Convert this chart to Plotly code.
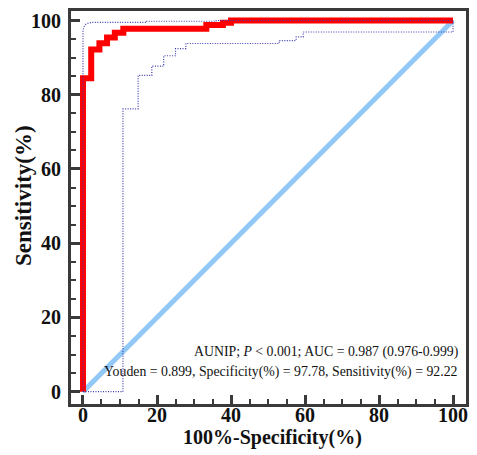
import plotly.graph_objects as go

# ROC curve (100%-Specificity, Sensitivity)
roc_x = [0, 0, 2.22, 2.22, 4.44, 4.44, 6.5, 6.5, 8.6, 8.6, 10.9, 10.9, 33.33, 33.33, 37.8, 37.8, 40.0, 40.0, 100]
roc_y = [0, 84.44, 84.44, 92.22, 92.22, 93.9, 93.9, 95.4, 95.4, 96.7, 96.7, 97.78, 97.78, 98.8, 98.8, 99.4, 99.4, 100, 100]

# Upper confidence bound
upper_x = [0, 0, 0.3, 0.8, 1.5, 2.5, 17.2, 17.2, 36.0, 36.0, 100]
upper_y = [0, 97.3, 98.4, 99.0, 99.3, 99.5, 99.5, 99.8, 99.8, 100, 100]

# Lower confidence bound
lower_x = [0, 10.8, 10.8, 14.9, 14.9, 18.6, 18.6, 21.8, 21.8, 25.0, 25.0, 27.8, 27.8,
           53.0, 53.0, 57.6, 57.6, 59.5, 59.5, 100, 100]
lower_y = [0, 0, 76.2, 76.2, 85.2, 85.2, 87.7, 87.7, 90.5, 90.5, 92.4, 92.4, 93.8,
           93.8, 94.6, 94.6, 95.6, 95.6, 96.9, 96.9, 100]

# Reference diagonal
diag_x = [0, 100]
diag_y = [0, 100]

tick_vals = [0, 20, 40, 60, 80, 100]
tick_text = ["0", "20", "40", "60", "80", "100"]

x_title = "100%-Specificity(%)"
y_title = "Sensitivity(%)"
line1 = "AUNIP; <i>P</i> < 0.001; AUC = 0.987 (0.976-0.999)"
line2 = "Youden = 0.899, Specificity(%) = 97.78, Sensitivity(%) = 92.22"

SERIF = "Liberation Serif, Times New Roman, serif"
AX = "#3a3a3a"

fig = go.Figure()
fig.add_trace(go.Scatter(x=diag_x, y=diag_y, mode="lines",
                         line=dict(color="#92c8f6", width=5), hoverinfo="skip"))
fig.add_trace(go.Scatter(x=roc_x, y=roc_y, mode="lines",
                         line=dict(color="#ff0000", width=6), hoverinfo="skip"))
fig.add_trace(go.Scatter(x=upper_x, y=upper_y, mode="lines",
                         line=dict(color="#3b3bb0", width=1.2, dash="1px,1.5px"), hoverinfo="skip"))
fig.add_trace(go.Scatter(x=lower_x, y=lower_y, mode="lines",
                         line=dict(color="#3b3bb0", width=1.2, dash="1px,1.5px"), hoverinfo="skip"))

axis_common = dict(
    showgrid=False, zeroline=False, automargin=False,
    showline=True, linecolor=AX, linewidth=3, mirror=True,
    ticks="inside", ticklen=9, tickwidth=2.5, tickcolor=AX,
    tickvals=tick_vals, ticktext=tick_text,
    tickfont=dict(family=SERIF, size=20, color="#111111", weight="bold"),
    minor=dict(dtick=5, ticks="inside", ticklen=5, tickwidth=2, tickcolor=AX),
)

fig.update_layout(
    width=477, height=455,
    margin=dict(l=71, r=11, t=11, b=51),
    paper_bgcolor="white", plot_bgcolor="white",
    showlegend=False,
    xaxis=dict(range=[-3.24, 103.5], ticklabelstandoff=-9, **axis_common),
    yaxis=dict(range=[-3.31, 102.56], ticklabelstandoff=3, **axis_common),
    annotations=[
        dict(x=0.509, y=-0.086, xref="paper", yref="paper", xanchor="center", yanchor="middle",
             text="<b>" + x_title + "</b>", showarrow=False,
             font=dict(family=SERIF, size=20, color="#111111")),
        dict(x=-0.119, y=0.532, xref="paper", yref="paper", xanchor="center", yanchor="middle",
             text="<b>" + y_title + "</b>", showarrow=False, textangle=-90,
             font=dict(family=SERIF, size=23, color="#111111")),
        dict(x=101.9, y=10.7, xref="x", yref="y", xanchor="right", yanchor="middle",
             text=line1, showarrow=False,
             font=dict(family=SERIF, size=13.8, color="#111111")),
        dict(x=101.9, y=5.2, xref="x", yref="y", xanchor="right", yanchor="middle",
             text=line2, showarrow=False,
             font=dict(family=SERIF, size=13.8, color="#111111")),
    ],
)

fig.write_html("out.html")
